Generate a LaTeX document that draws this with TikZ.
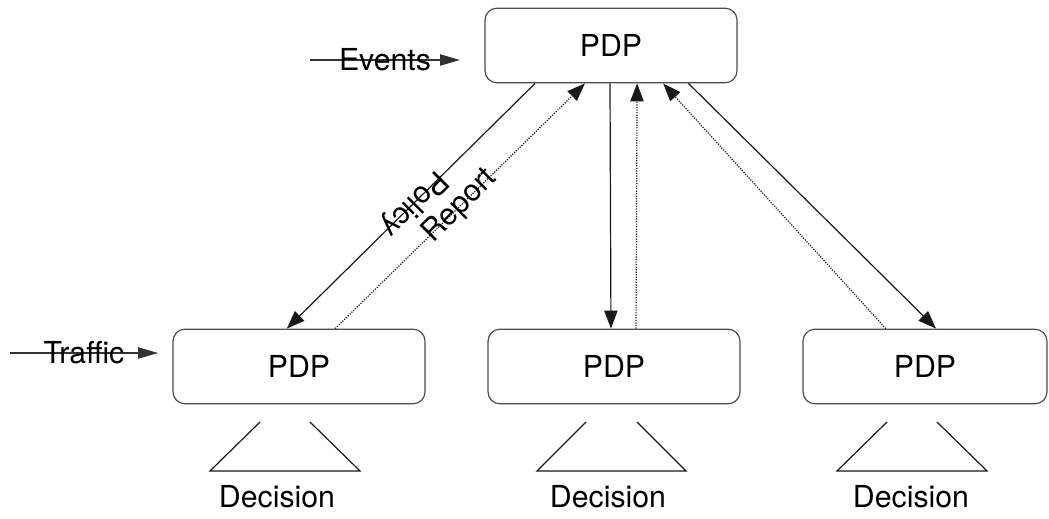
\documentclass[tikz,border=0pt]{standalone}
\usepackage{fontspec}
\setmainfont{TeX Gyre Heros}
\usetikzlibrary{arrows.meta,calc}
\begin{document}
\begin{tikzpicture}[x=0.75pt,y=-0.75pt,
  every node/.style={font=\fontsize{22.7}{27}\selectfont},
  pdpbox/.style={draw=black!70,line width=0.9pt,rounded corners=9pt,
    minimum height=56pt,minimum width=189pt,inner sep=0pt},
  flow/.style={draw=black!90,line width=0.9pt,-{Triangle[length=13.5pt,width=10pt]}},
  report/.style={flow,densely dotted},
  feed/.style={draw=black!80,line width=0.9pt,-{Triangle[length=15pt,width=8.5pt]}},
  tree/.style={draw=black!90,line width=0.9pt}
]
\useasboundingbox (0,0) rectangle (1049,518);

% policy decision points
\node[pdpbox] (top)   at (611,45.5)  {PDP};
\node[pdpbox] (left)  at (299,366.5) {PDP};
\node[pdpbox] (mid)   at (614,366.5) {PDP};
\node[pdpbox,minimum width=183pt] (right) at (925,366.5) {PDP};

% external inputs
\coordinate (evA) at (310,60);
\coordinate (evB) at (460,60);
\draw[feed] (evA) -- node {Events} (evB);
\coordinate (trA) at (10,353);
\coordinate (trB) at (158,353);
\draw[feed] (trA) -- node {Traffic} (trB);

% policy distribution and reporting
\draw[flow] ($(top.south west)!0.2!(top.south east)$)
  -- node[pos=0.49,rotate=225] {Policy} ($(left.north west)!0.452!(left.north east)$);
\draw[report] ($(left.north west)!0.643!(left.north east)$)
  -- node[rotate=45] {Report} ($(top.south west)!0.397!(top.south east)$);
\draw[flow] ($(top.south west)!0.496!(top.south east)$)
  -- ($(mid.north west)!0.488!(mid.north east)$);
\draw[report] ($(mid.north west)!0.587!(mid.north east)$)
  -- ($(top.south west)!0.603!(top.south east)$);
\draw[report] ($(right.north west)!0.34!(right.north east)$)
  -- ($(top.south west)!0.706!(top.south east)$);
\draw[flow] ($(top.south west)!0.806!(top.south east)$)
  -- ($(right.north west)!0.545!(right.north east)$);

% decision trees
\draw[tree] (260,422) -- (210,471) -- (360,471) -- (310,422);
\draw[tree] (586,422) -- (537,471) -- (686,471) -- (637,422);
\draw[tree] (887,422) -- (837,471) -- (987,471) -- (937,422);
\node (d1) at (277,497) {Decision};
\node (d2) at (608,497) {Decision};
\node (d3) at (911,497) {Decision};
\end{tikzpicture}
\end{document}
